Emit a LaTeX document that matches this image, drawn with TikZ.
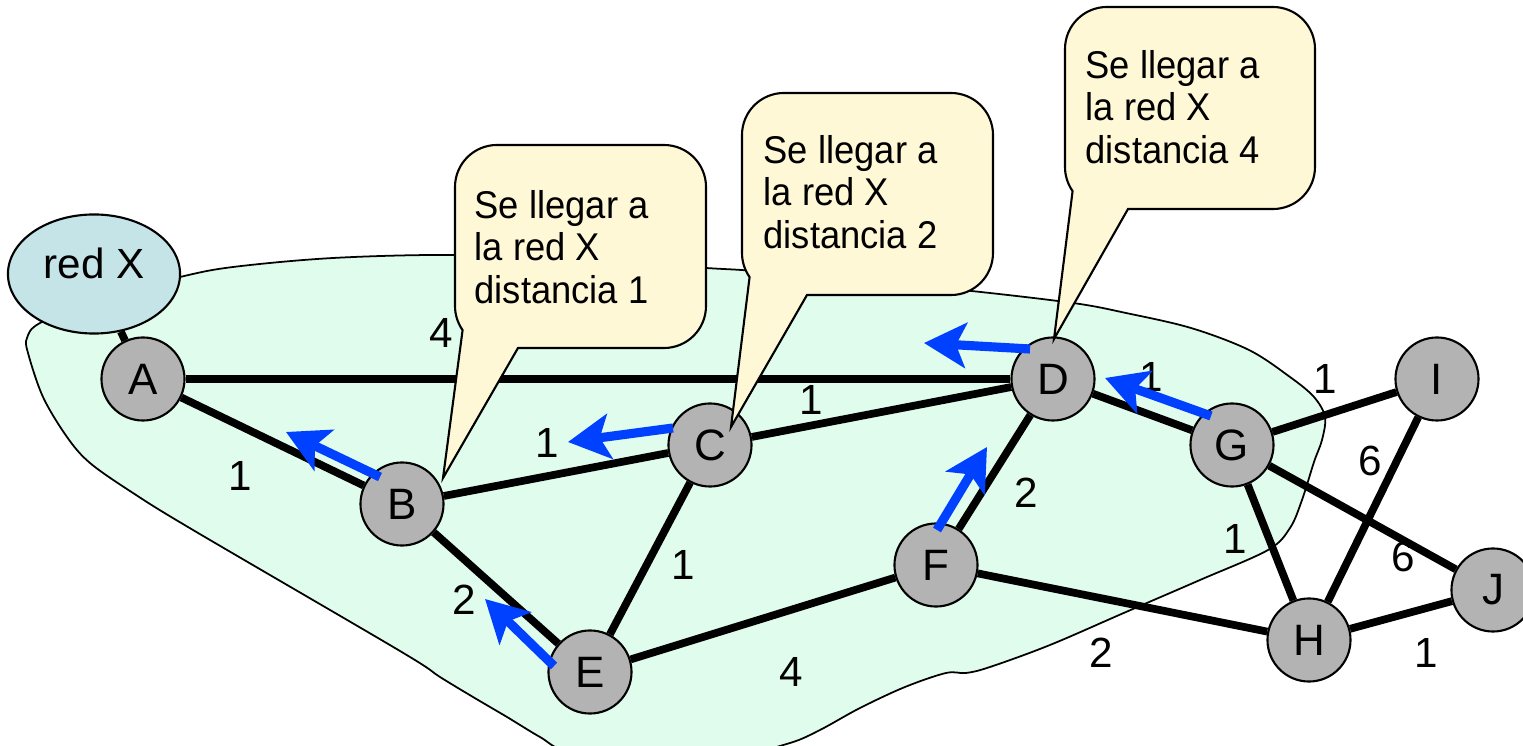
\documentclass[tikz,border=0pt]{standalone}
\usepackage{fontspec}
\setmainfont{Liberation Sans}
\newfontfamily\calloutfont{Liberation Sans}[FakeStretch=0.94]
\usetikzlibrary{arrows.meta,shapes.geometric,backgrounds}
\definecolor{blobgreen}{RGB}{224,252,236}
\definecolor{calloutyellow}{RGB}{255,248,214}
\definecolor{redxblue}{RGB}{196,228,232}
\definecolor{nodegray}{RGB}{179,179,179}
\definecolor{arrowblue}{RGB}{0,64,255}
\begin{document}
\begin{tikzpicture}[x=0.01cm,y=-0.01cm,
  router/.style={circle,draw=black,line width=0.6pt,fill=nodegray,minimum size=0.83cm,inner sep=0pt,font=\fontsize{12.5}{14}\selectfont},
  netx/.style={ellipse,draw=black,line width=0.6pt,fill=redxblue,minimum width=1.72cm,minimum height=1.19cm,inner sep=0pt,text height=7.6pt,text depth=5.2pt,font=\fontsize{12}{14}\selectfont},
  edge/.style={line width=2.2pt,black},
  wlabel/.style={font=\fontsize{12}{14}\selectfont,inner sep=0pt},
  callout/.style={draw=black,line width=0.6pt,fill=calloutyellow},
  callouttext/.style={anchor=north west,align=left,inner sep=0pt,font=\calloutfont\fontsize{11}{12}\selectfont},
  route/.style={draw=arrowblue,line width=2.6pt,-{Stealth[length=0.42cm,width=0.45cm,inset=0.1cm]}},
  region/.style={draw=black,line width=0.5pt,fill=blobgreen}
]
\useasboundingbox (0,0) rectangle (1523,746);

% nodes
\node[netx] (redx) at (94,274) {red X};
\node[router] (A) at (143,379) {A};
\node[router] (B) at (402,504) {B};
\node[router] (C) at (710,445) {C};
\node[router] (D) at (1053,379) {D};
\node[router] (E) at (590,672) {E};
\node[router] (F) at (936,565) {F};
\node[router] (G) at (1232,445) {G};
\node[router] (H) at (1309,640) {H};
\node[router] (I) at (1437,379) {I};
\node[router] (J) at (1493,590) {J};

\begin{scope}[on background layer]
\path[region] plot[smooth cycle,tension=0.55] coordinates {
 (40,323) (100,298) (180,277) (233,267) (333,258) (453,255) (580,260)
 (706,268) (754,271) (860,281) (962,290) (1073,303) (1126,313) (1191,328)
 (1249,350) (1290,377) (1314,397) (1325,417) (1322,440) (1314,462)
 (1302,500) (1290,528) (1268,550) (1200,580) (1126,612) (1050,645)
 (990,667) (966,673) (946,673) (905,687) (860,708) (820,730) (790,743)
 (740,754) (650,756) (570,752) (540,737) (507,717) (473,697)
 (440,677) (400,651) (193,530) (133,493) (90,463)
 (67,437) (43,397) (28,353) (27,338)};
\draw[edge] (redx) -- (A);
\draw[edge] (A) -- (D);
\draw[edge] (A) -- (B);
\draw[edge] (B) -- (C);
\draw[edge] (B) -- (E);
\draw[edge] (C) -- (E);
\draw[edge] (C) -- (D);
\draw[edge] (D) -- (G);
\draw[edge] (D) -- (F);
\draw[edge] (E) -- (F);
\draw[edge] (F) -- (H);
\draw[edge] (G) -- (I);
\draw[edge] (G) -- (H);
\draw[edge] (G) -- (J);
\draw[edge] (I) -- (H);
\draw[edge] (H) -- (J);
\end{scope}

% edge weights
\node[wlabel] (wAD) at (441,333) {4};
\node[wlabel] (wAB) at (240,476) {1};
\node[wlabel] (wBC) at (547,443) {1};
\node[wlabel] (wCD) at (811,400) {1};
\node[wlabel] (wBE) at (464,600) {2};
\node[wlabel] (wCE) at (683,565) {1};
\node[wlabel] (wEF) at (791,672) {4};
\node[wlabel] (wDF) at (1026,493) {2};
\node[wlabel] (wDG) at (1151,377) {1};
\node[wlabel] (wGI) at (1325,379) {1};
\node[wlabel] (wIH) at (1370,461) {6};
\node[wlabel] (wGJ) at (1403,557) {6};
\node[wlabel] (wGH) at (1235,539) {1};
\node[wlabel] (wFH) at (1101,653) {2};
\node[wlabel] (wHJ) at (1426,653) {1};

% callouts
\draw[callout] (443,478) -- (462.6,330.1) arc[start angle=215,end angle=180,radius=0.42cm]
  -- (455,187) arc[start angle=180,end angle=90,radius=0.42cm]
  -- (664,145) arc[start angle=90,end angle=0,radius=0.42cm]
  -- (706,306) arc[start angle=0,end angle=-90,radius=0.42cm]
  -- (518,348) -- cycle;
\node[callouttext] (t1) at (474,190) {Se llegar a\\la red X\\distancia 1};

\draw[callout] (731,427) -- (749.6,277.1) arc[start angle=215,end angle=180,radius=0.42cm]
  -- (742,135) arc[start angle=180,end angle=90,radius=0.42cm]
  -- (951,93) arc[start angle=90,end angle=0,radius=0.42cm]
  -- (993,253) arc[start angle=0,end angle=-90,radius=0.42cm]
  -- (807,295) -- cycle;
\node[callouttext] (t2) at (763,135) {Se llegar a\\la red X\\distancia 2};

\draw[callout] (1054,339) -- (1072.6,191.1) arc[start angle=215,end angle=180,radius=0.42cm]
  -- (1065,49) arc[start angle=180,end angle=90,radius=0.42cm]
  -- (1273,7) arc[start angle=90,end angle=0,radius=0.42cm]
  -- (1315,167) arc[start angle=0,end angle=-90,radius=0.42cm]
  -- (1128,209) -- cycle;
\node[callouttext] (t3) at (1085,50) {Se llegar a\\la red X\\distancia 4};

% routing arrows
\coordinate (r1s) at (380,477); \coordinate (r1e) at (286,432);
\coordinate (r2s) at (673,428); \coordinate (r2e) at (568,442);
\coordinate (r3s) at (1030,349); \coordinate (r3e) at (924,343);
\coordinate (r4s) at (1211,416); \coordinate (r4e) at (1105,378);
\coordinate (r5s) at (937,530); \coordinate (r5e) at (987,447);
\coordinate (r6s) at (554,666); \coordinate (r6e) at (485,599);
\draw[route] (r1s) -- (r1e);
\draw[route] (r2s) -- (r2e);
\draw[route] (r3s) -- (r3e);
\draw[route] (r4s) -- (r4e);
\draw[route] (r5s) -- (r5e);
\draw[route] (r6s) -- (r6e);
\end{tikzpicture}
\end{document}
